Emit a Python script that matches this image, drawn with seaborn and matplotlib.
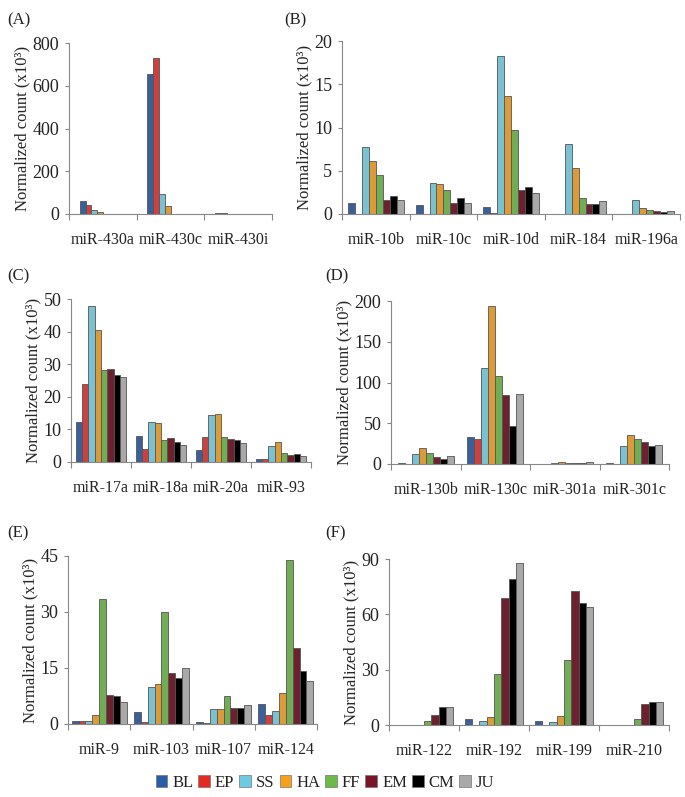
import numpy as np
import pandas as pd
import matplotlib
matplotlib.use("Agg")
import matplotlib.pyplot as plt
from matplotlib.patches import Patch
import seaborn as sns

# stages (legend order) and their colours
STAGES = ['BL', 'EP', 'SS', 'HA', 'FF', 'EM', 'CM', 'JU']
COLORS = ['#2b5ca8', '#e42a25', '#6ccbe0', '#f7a01e',
          '#6cbb47', '#7a1427', '#000000', '#a9a9a9']

# values, one row per miRNA, columns follow STAGES
A_MIRNA = ['miR-430a', 'miR-430c', 'miR-430i']
A_VALUES = [[60.7, 43.6, 18.7, 7.8, 0, 0, 0, 0],
            [657, 728, 95, 37, 0, 0, 0, 0],
            [4, 3, 0, 0, 0, 0, 0, 0]]

B_MIRNA = ['miR-10b', 'miR-10c', 'miR-10d', 'miR-184', 'miR-196a']
B_VALUES = [[1.3, 0, 7.8, 6.1, 4.55, 1.6, 2.1, 1.6],
            [1.05, 0, 3.6, 3.45, 2.8, 1.3, 1.8, 1.3],
            [0.8, 0.1, 18.3, 13.6, 9.7, 2.8, 3.1, 2.45],
            [0, 0, 8.1, 5.35, 1.85, 1.1, 1.1, 1.5],
            [0, 0, 1.6, 0.7, 0.45, 0.38, 0.28, 0.35]]

C_MIRNA = ['miR-17a', 'miR-18a', 'miR-20a', 'miR-93']
C_VALUES = [[12.3, 24.0, 47.7, 40.4, 28.3, 28.6, 26.8, 26.2],
            [8.1, 4.0, 12.4, 12.1, 6.9, 7.3, 6.0, 5.3],
            [3.8, 7.6, 14.4, 14.7, 7.6, 7.1, 6.6, 5.9],
            [1.0, 1.0, 4.8, 6.1, 2.7, 2.1, 2.5, 1.8]]

D_MIRNA = ['miR-130b', 'miR-130c', 'miR-301a', 'miR-301c']
D_VALUES = [[1.2, 0, 12.2, 19.6, 13.5, 8.6, 6.1, 10.2],
            [33, 30.6, 117.6, 194, 107.8, 84.5, 46.5, 86.5],
            [0, 0, 1.2, 2.0, 1.6, 1.6, 1.2, 2.0],
            [0.8, 0, 21.7, 36, 31, 26.6, 22, 23]]

E_MIRNA = ['miR-9', 'miR-103', 'miR-107', 'miR-124']
E_VALUES = [[0.7, 0.7, 0.9, 2.5, 33.4, 7.9, 7.5, 5.9],
            [3.3, 0.5, 9.9, 10.6, 30.0, 13.7, 12.4, 15.0],
            [0.6, 0.35, 3.9, 3.9, 7.4, 4.4, 4.4, 5.2],
            [5.4, 2.5, 3.4, 8.3, 43.8, 20.3, 14.2, 11.6]]

F_MIRNA = ['miR-122', 'miR-192', 'miR-199', 'miR-210']
F_VALUES = [[0.2, 0.1, 0.1, 0.1, 2.4, 5.6, 9.6, 9.6],
            [3.1, 0, 2.0, 4.2, 27.6, 69.1, 79.3, 87.7],
            [2.0, 0, 1.6, 4.9, 35.2, 72.4, 66.4, 63.9],
            [0.2, 0, 0, 0, 3.1, 11.6, 12.2, 12.2]]

sns.set_theme(style="white")
plt.rcParams['font.family'] = ['Liberation Serif', 'DejaVu Serif']
plt.rcParams['text.color'] = '#222222'

W, H = 685, 797
fig = plt.figure(figsize=(W / 100, H / 100), dpi=100)


def make_ax(left, right, top, bottom):
    return fig.add_axes([left / W, 1 - bottom / H,
                         (right - left) / W, (bottom - top) / H])


def panel(ax, mirnas, values, ymax, ystep, width, letter, lx, ly):
    df = pd.DataFrame(values, index=mirnas, columns=STAGES)
    df = df.reset_index(names='mirna').melt(id_vars='mirna',
                                            var_name='stage', value_name='count')
    sns.barplot(data=df, x='mirna', y='count', hue='stage',
                hue_order=STAGES, palette=COLORS, width=width,
                edgecolor='#555555', linewidth=0.6, legend=False, ax=ax)
    n = len(mirnas)
    ax.set_xlim(-0.5, n - 0.5)
    ax.set_ylim(0, ymax)
    ticks = np.arange(0, ymax + 0.01, ystep)
    ax.set_yticks(ticks)
    ax.set_yticklabels([f'{v:g}' for v in ticks])
    ax.set_xticks(np.arange(-0.5, n), minor=True)
    ax.tick_params(axis='x', which='major', length=0, pad=13,
                   labelsize=11.5, labelcolor='#222222')
    ax.tick_params(axis='x', which='minor', length=4, width=0.8,
                   color='#888888', direction='out', bottom=True)
    ax.tick_params(axis='y', length=3, width=0.8, color='#888888',
                   direction='out', left=True, pad=4,
                   labelsize=13, labelcolor='#222222')
    for s in ['top', 'right']:
        ax.spines[s].set_visible(False)
    for s in ['left', 'bottom']:
        ax.spines[s].set_color('#888888')
        ax.spines[s].set_linewidth(0.8)
    ax.set_xlabel('')
    ax.set_ylabel('Normalized count (x10³)', fontsize=12, labelpad=1.5)
    fig.text(lx / W, 1 - ly / H, letter, fontsize=12, va='center', ha='left')


axA = make_ax(69, 272, 43, 214)
panel(axA, A_MIRNA, A_VALUES, 800, 200, 0.68, '(A)', 7, 20)
axB = make_ax(342, 680, 41, 214)
panel(axB, B_MIRNA, B_VALUES, 20, 5, 0.82, '(B)', 284, 20)
axC = make_ax(71, 311, 299, 462)
panel(axC, C_MIRNA, C_VALUES, 50, 10, 0.84, '(C)', 7, 276)
axD = make_ax(391, 669, 301, 464)
panel(axD, D_MIRNA, D_VALUES, 200, 50, 0.81, '(D)', 325, 276)
axE = make_ax(68, 317, 556, 724)
panel(axE, E_MIRNA, E_VALUES, 45, 15, 0.88, '(E)', 7, 533)
axF = make_ax(389, 669, 559, 725)
panel(axF, F_MIRNA, F_VALUES, 90, 30, 0.83, '(F)', 325, 533)

handles = [Patch(facecolor=c, edgecolor='#777777', linewidth=0.5, label=s)
           for s, c in zip(STAGES, COLORS)]
fig.legend(handles=handles, loc='center', bbox_to_anchor=(325 / W, 1 - 783 / H),
           ncol=8, frameon=False, fontsize=12, handlelength=0.7,
           handleheight=0.7, handletextpad=0.3, columnspacing=0.3)

fig.savefig('out.png', dpi=100)
